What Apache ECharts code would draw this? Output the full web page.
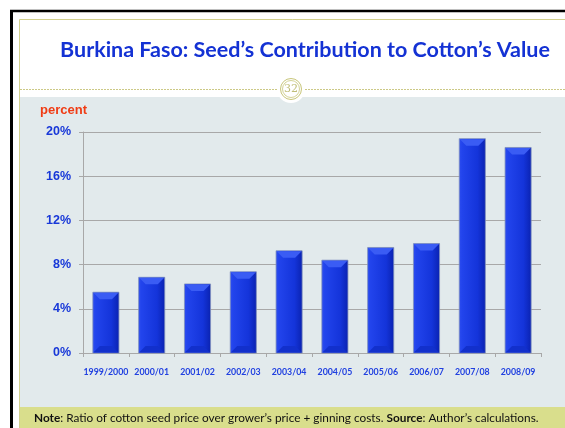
<!DOCTYPE html>
<html><head><meta charset="utf-8">
<script src="https://cdn.jsdelivr.net/npm/echarts@6/dist/echarts.min.js"></script>
<style>html,body{margin:0;padding:0;background:#fff}#c{width:565px;height:428px}</style>
</head><body><div id="c"></div>
<script>
const categories = ['1999/2000','2000/01','2001/02','2002/03','2003/04','2004/05','2005/06','2006/07','2007/08','2008/09'];
const seedShare = [5.5, 6.85, 6.25, 7.35, 9.25, 8.4, 9.55, 9.9, 19.4, 18.6];
const yTicks = {min: 0, max: 20, interval: 4};
const titleText = 'Burkina Faso: Seed\u2019s Contribution to Cotton\u2019s Value';
const slideNo = '32';
const unitLabel = 'percent';

const chart = echarts.init(document.getElementById('c'), null, {renderer: 'canvas'});
function barGrad() {
  return new echarts.graphic.LinearGradient(0, 0, 1, 0, [
    {offset: 0, color: '#2e4ef0'},
    {offset: 0.12, color: '#2244ec'},
    {offset: 0.7, color: '#1434da'},
    {offset: 1, color: '#0a22b0'}
  ]);
}
function renderBar(params, api) {
  const idx = api.value(0);
  const top = api.coord([idx, api.value(1)]);
  const base = api.coord([idx, 0]);
  const w = api.size([1, 0])[0] * 0.57;
  const x0 = top[0] - w / 2, x1 = top[0] + w / 2;
  const h = base[1] - top[1];
  const b = Math.min(7, h / 2);
  return {
    type: 'group',
    children: [
      {type: 'rect', shape: {x: x0, y: top[1], width: w, height: h},
       style: {fill: barGrad(), stroke: '#8090bc', lineWidth: 0.8}},
      {type: 'polygon', shape: {points: [[x0 + 0.5, top[1] + 0.5], [x1 - 0.5, top[1] + 0.5], [x1 - b, top[1] + b], [x0 + b, top[1] + b]]},
       style: {fill: '#3a5cf4'}},
      {type: 'polygon', shape: {points: [[x0 + 0.5, base[1] - 0.5], [x1 - 0.5, base[1] - 0.5], [x1 - b, base[1] - b], [x0 + b, base[1] - b]]},
       style: {fill: '#1230cc'}}
    ]
  };
}
chart.setOption({
  animation: false,
  backgroundColor: '#ffffff',
  graphic: [
    {type: 'rect', z: -10, shape: {x: 20, y: 97, width: 545, height: 310}, style: {fill: '#e2eaec'}},
    {type: 'rect', z: -10, shape: {x: 20, y: 407, width: 545, height: 21}, style: {fill: '#d9de8c'}},
    {type: 'line', z: -9, shape: {x1: 19.5, y1: 19.5, x2: 565, y2: 19.5}, style: {stroke: '#d2d08e', lineWidth: 1}},
    {type: 'line', z: -9, shape: {x1: 19.5, y1: 19.5, x2: 19.5, y2: 428}, style: {stroke: '#d2d08e', lineWidth: 1}},
    {type: 'line', z: -9, shape: {x1: 10, y1: 11, x2: 565, y2: 11}, style: {stroke: '#000', lineWidth: 2.5}},
    {type: 'line', z: -9, shape: {x1: 11.5, y1: 10, x2: 11.5, y2: 428}, style: {stroke: '#000', lineWidth: 3}},
    {type: 'line', z: -8, shape: {x1: 20, y1: 89.5, x2: 565, y2: 89.5}, style: {stroke: '#ccc986', lineWidth: 1, lineDash: [2, 1]}},
    {type: 'circle', z: -7, shape: {cx: 291, cy: 89, r: 14}, style: {fill: '#ffffff'}},
    {type: 'circle', z: -6, shape: {cx: 291, cy: 89, r: 10.5}, style: {fill: '#ffffff', stroke: '#c8c67a', lineWidth: 1}},
    {type: 'circle', z: -6, shape: {cx: 291, cy: 89, r: 8.5}, style: {fill: 'none', stroke: '#c8c67a', lineWidth: 0.8}},
    {type: 'text', z: -5, style: {text: slideNo, x: 291, y: 89.5, align: 'center', verticalAlign: 'middle', fill: '#c0be78', font: '11px "DejaVu Serif", serif'}},
    {type: 'text', style: {text: titleText, x: 305, y: 50, align: 'center', verticalAlign: 'middle', fill: '#1432d4', font: 'bold 21.5px Lato, "Open Sans", sans-serif'}},
    {type: 'text', style: {text: unitLabel, x: 40, y: 110, align: 'left', verticalAlign: 'middle', fill: '#f03c14', font: 'bold 13px "Liberation Sans", Arial, sans-serif'}},
    {type: 'text', style: {
      x: 34, y: 418, align: 'left', verticalAlign: 'middle',
      text: '{b|Note}: Ratio of cotton seed price over grower\u2019s price + ginning costs. {b|Source}: Author\u2019s calculations.',
      font: '11.8px Lato, "Open Sans", sans-serif', fill: '#111',
      rich: {b: {fontWeight: 'bold', fontFamily: 'Lato, "Open Sans", sans-serif', fontSize: 11.8, fill: '#111'}}
    }}
  ],
  grid: {left: 83, right: 24, top: 132, bottom: 75, containLabel: false},
  xAxis: {
    type: 'category', data: categories,
    axisLine: {lineStyle: {color: '#a8a8a8', width: 1}},
    axisTick: {show: true, length: 4, lineStyle: {color: '#a8a8a8'}},
    axisLabel: {interval: 0, color: '#2040e0', fontWeight: 'bold', fontSize: 8.8, margin: 15, fontFamily: 'Lato, "Open Sans", sans-serif'}
  },
  yAxis: {
    type: 'value', min: yTicks.min, max: yTicks.max, interval: yTicks.interval,
    axisLine: {show: true, lineStyle: {color: '#a8a8a8'}},
    axisTick: {show: true, length: 4, lineStyle: {color: '#a8a8a8'}},
    splitLine: {lineStyle: {color: '#a8a8a8', width: 1.2}},
    axisLabel: {formatter: '{value}%', color: '#1838d8', fontWeight: 'bold', fontSize: 12.5, margin: 12, fontFamily: '"Liberation Sans", Arial, sans-serif'}
  },
  series: [{
    type: 'custom', renderItem: renderBar,
    data: seedShare.map((v, i) => [i, v]),
    encode: {x: 0, y: 1}
  }]
});
</script></body></html>
